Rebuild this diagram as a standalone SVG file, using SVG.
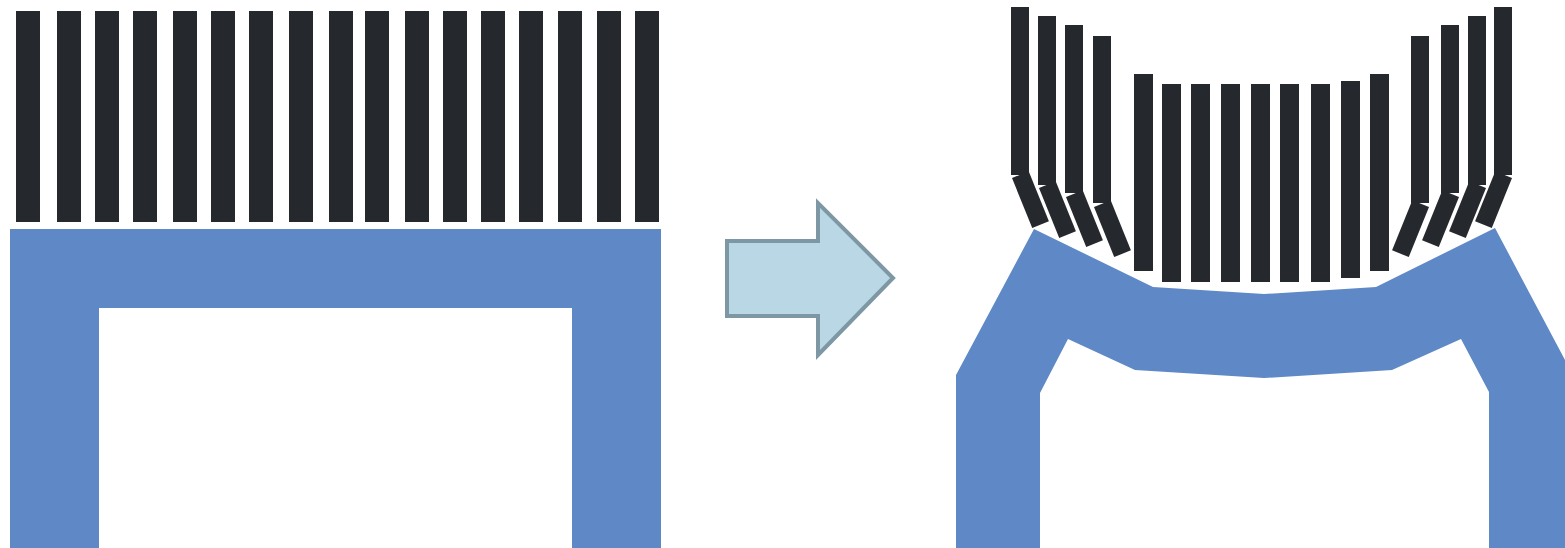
<svg xmlns="http://www.w3.org/2000/svg" width="1565" height="548" viewBox="0 0 1565 548">
<style>
.bar{fill:#25282c}
.blue{fill:#5e88c6}
.arrow{fill:#b9d7e4;stroke:#7d98a4;stroke-width:4;stroke-linejoin:miter}
</style>
<defs>
<rect id="lb" class="bar" x="0" y="0" width="24" height="211"/>
<rect id="segL" class="bar" x="0" y="0" width="18" height="54" transform="rotate(-22)"/>
<rect id="segR" class="bar" x="-18" y="0" width="18" height="54" transform="rotate(22)"/>
</defs>
<rect width="1565" height="548" fill="#ffffff"/>
<g id="before">
<g id="before-frame">
<path class="blue" d="M10 229 H661 V548 H572 V308 H99 V548 H10 Z"/>
</g>
<g id="before-bars">
<use href="#lb" x="16" y="11"/>
<use href="#lb" x="57" y="11"/>
<use href="#lb" x="95" y="11"/>
<use href="#lb" x="133" y="11"/>
<use href="#lb" x="173" y="11"/>
<use href="#lb" x="211" y="11"/>
<use href="#lb" x="249" y="11"/>
<use href="#lb" x="289" y="11"/>
<use href="#lb" x="329" y="11"/>
<use href="#lb" x="365" y="11"/>
<use href="#lb" x="405" y="11"/>
<use href="#lb" x="443" y="11"/>
<use href="#lb" x="481" y="11"/>
<use href="#lb" x="519" y="11"/>
<use href="#lb" x="558" y="11"/>
<use href="#lb" x="597" y="11"/>
<use href="#lb" x="635" y="11"/>
</g>
</g>
<g id="connectors">
<g id="arrow">
<path class="arrow" d="M727 241 H818 V203 L893 278 L818 355 V316 H727 Z"/>
</g>
</g>
<g id="after">
<g id="after-frame">
<path class="blue" d="M956 548 V375 L1034 229 L1153 287 L1264 294 L1376 287 L1495 228 L1573 375 V548 H1489 V392 L1461 339 L1392 370 L1264 378 L1135 370 L1068 339 L1040 393 V548 Z"/>
</g>
<g id="after-bars-left">
<rect class="bar" x="1011" y="7" width="18" height="168"/>
<rect class="bar" x="1038" y="16" width="18" height="169"/>
<rect class="bar" x="1065" y="25" width="18" height="168"/>
<rect class="bar" x="1093" y="36" width="18" height="167"/>
<use href="#segL" x="1012" y="178"/>
<use href="#segL" x="1039" y="188"/>
<use href="#segL" x="1066" y="197"/>
<use href="#segL" x="1094" y="207"/>
</g>
<g id="after-bars-middle">
<rect class="bar" x="1134" y="74" width="19" height="197"/>
<rect class="bar" x="1162" y="84" width="19" height="198"/>
<rect class="bar" x="1191" y="84" width="19" height="198"/>
<rect class="bar" x="1221" y="84" width="19" height="198"/>
<rect class="bar" x="1251" y="84" width="19" height="198"/>
<rect class="bar" x="1280" y="84" width="19" height="198"/>
<rect class="bar" x="1311" y="84" width="19" height="198"/>
<rect class="bar" x="1341" y="81" width="19" height="197"/>
<rect class="bar" x="1370" y="74" width="19" height="197"/>
</g>
<g id="after-bars-right">
<rect class="bar" x="1411" y="36" width="18" height="167"/>
<rect class="bar" x="1441" y="25" width="18" height="168"/>
<rect class="bar" x="1468" y="16" width="18" height="169"/>
<rect class="bar" x="1494" y="7" width="18" height="168"/>
<use href="#segR" x="1429" y="207"/>
<use href="#segR" x="1459" y="197"/>
<use href="#segR" x="1486" y="188"/>
<use href="#segR" x="1512" y="178"/>
</g>
</g>
</svg>
